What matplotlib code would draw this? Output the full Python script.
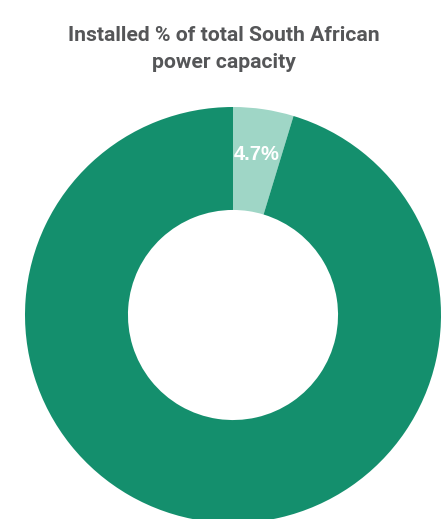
import matplotlib.pyplot as plt
import numpy as np

labels = ['Renewables', 'Other']
shares = [4.7, 95.3]
colors = ['#9fd6c6', '#148f6d']
title_lines = ['Installed % of total South African', 'power capacity']

W, H = 444, 519
fig = plt.figure(figsize=(W / 100, H / 100), dpi=100)
fig.patch.set_facecolor('white')

# donut axes, lower part runs off the bottom edge of the figure
ax = fig.add_axes([25 / W, -4 / H, 416 / W, 416 / H])
wedges, _ = ax.pie(shares, colors=colors, startangle=90, counterclock=False,
                   radius=1.0, wedgeprops=dict(width=0.495, linewidth=0))
ax.set_xlim(-1, 1)
ax.set_ylim(-1, 1)
ax.set_aspect('auto')
ax.axis('off')

# percentage label inside the small slice
mid = np.deg2rad(90 - shares[0] / 100 * 360 / 2)
r = 0.78
ax.text(r * np.cos(mid), r * np.sin(mid), f'{shares[0]}%', color='white',
        fontsize=14.5, fontweight='bold', ha='center', va='center',
        family=['Liberation Sans', 'DejaVu Sans'])

# two-line title
for line, base in zip(title_lines, [41, 68]):
    fig.text(224 / W, 1 - base / H, line, ha='center', va='baseline',
             fontsize=15.2, fontweight='bold', color='#555658',
             family=['Roboto', 'DejaVu Sans'])

fig.savefig('out.png', dpi=100)
